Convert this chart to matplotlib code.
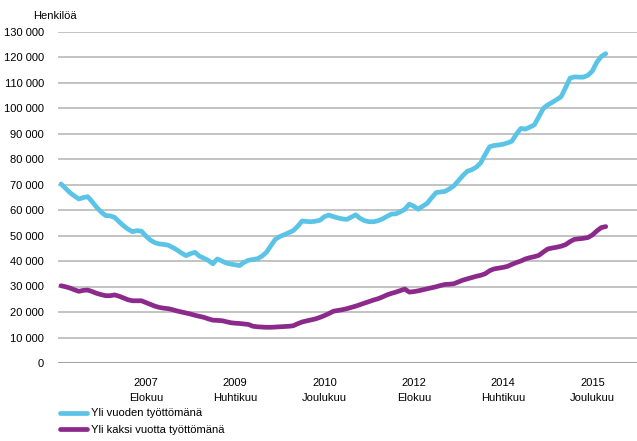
import numpy as np
import matplotlib
matplotlib.use("Agg")
import matplotlib.pyplot as plt

plt.rcParams['font.family'] = ['Liberation Sans', 'DejaVu Sans']

# monthly values, Jan 2006 .. Mar 2016
months = np.arange(123)
yli_vuoden = [
    70200, 68500, 66800, 65500, 64300, 64900, 65200, 63200, 61000, 59200,
    57800, 57700, 57100, 55400, 53800, 52500, 51500, 51900, 51700, 49800,
    48200, 47200, 46700, 46500, 46200, 45300, 44300, 43100, 42100, 42900,
    43400, 41900, 41100, 40200, 38900, 40800, 40000, 39200, 38800, 38500,
    38200, 39500, 40300, 40600, 40900, 41900, 43400, 46000, 48500, 49600,
    50300, 51100, 51900, 53600, 55700, 55500, 55400, 55600, 56000, 57400,
    58000, 57400, 56900, 56500, 56300, 57200, 58100, 56700, 55800, 55400,
    55400, 55800, 56500, 57500, 58400, 58500, 59300, 60300, 62300, 61500,
    60300, 61500, 62600, 64800, 66800, 67100, 67300, 68300, 69500, 71500,
    73500, 75200, 75800, 76800, 78500, 81800, 84800, 85300, 85500, 85800,
    86300, 87000, 89800, 92000, 91700, 92500, 93400, 96500, 99800, 101200,
    102200, 103300, 104400, 108000, 111700, 112200, 112100, 112100, 112800, 114500,
    118000, 120200, 121300]
yli_kaksi = [
    30300, 29900, 29400, 28700, 28100, 28500, 28600, 28000, 27300, 26800,
    26400, 26400, 26700, 26200, 25500, 24800, 24400, 24400, 24400, 23700,
    23000, 22300, 21800, 21500, 21300, 20900, 20400, 20000, 19600, 19200,
    18700, 18300, 17900, 17300, 16800, 16700, 16600, 16200, 15800, 15600,
    15500, 15300, 15100, 14400, 14200, 14100, 14000, 14000, 14100, 14200,
    14300, 14400, 14600, 15400, 16100, 16500, 16900, 17300, 17900, 18600,
    19400, 20300, 20600, 20900, 21300, 21800, 22300, 22900, 23500, 24100,
    24700, 25200, 25900, 26700, 27300, 27800, 28400, 29000, 27800, 28000,
    28300, 28700, 29100, 29500, 29900, 30400, 30800, 30900, 31100, 31800,
    32500, 33000, 33500, 34000, 34400, 35000, 36200, 36900, 37200, 37500,
    37900, 38700, 39400, 40000, 40800, 41300, 41700, 42200, 43500, 44700,
    45100, 45400, 45800, 46400, 47600, 48500, 48700, 48900, 49200, 50200,
    51800, 53100, 53500]

tick_pos = [19, 39, 59, 79, 99, 119]
tick_labels = ['2007\nElokuu', '2009\nHuhtikuu', '2010\nJoulukuu',
               '2012\nElokuu', '2014\nHuhtikuu', '2015\nJoulukuu']
yticks = np.arange(0, 130001, 10000)
ytick_labels = ['0'] + ['{:,}'.format(v).replace(',', ' ') for v in yticks[1:]]

fig = plt.figure(figsize=(6.37, 4.41), dpi=100)
ax = fig.add_axes([57.7/637, 1-363/441, 1-57.7/637, (363-31.5)/441])

ax.plot(months, yli_vuoden, color='#5BC4E6', lw=3.4, solid_capstyle='round',
        solid_joinstyle='round', label='Yli vuoden työttömänä', zorder=3)
ax.plot(months, yli_kaksi, color='#8C2A8C', lw=3.4, solid_capstyle='round',
        solid_joinstyle='round', label='Yli kaksi vuotta työttömänä', zorder=3)

ax.set_xlim(-0.75, 129)
ax.set_ylim(0, 130000)
ax.set_yticks(yticks)
ax.set_yticklabels(ytick_labels, fontsize=8)
ax.set_xticks(tick_pos)
ax.set_xticklabels(tick_labels, fontsize=8, linespacing=1.55)
ax.tick_params(length=0)
ax.tick_params(axis='y', pad=10)
ax.tick_params(axis='x', pad=11)
ax.grid(axis='y', color='#BEBEBE', lw=1.3)
ax.set_axisbelow(True)
for s in ax.spines.values():
    s.set_visible(False)
ax.axhline(0, color='#A6A6A6', lw=1.5, zorder=2)

fig.text(33/637, 1-16/441, 'Henkilöä', fontsize=8, va='center', ha='left')

fig.legend(loc='upper left', bbox_to_anchor=(56/637, 1-404/441), frameon=False,
           fontsize=8, handlelength=2.4, handletextpad=0.35, labelspacing=0.55,
           borderaxespad=0)

fig.savefig('out.png', dpi=100)
